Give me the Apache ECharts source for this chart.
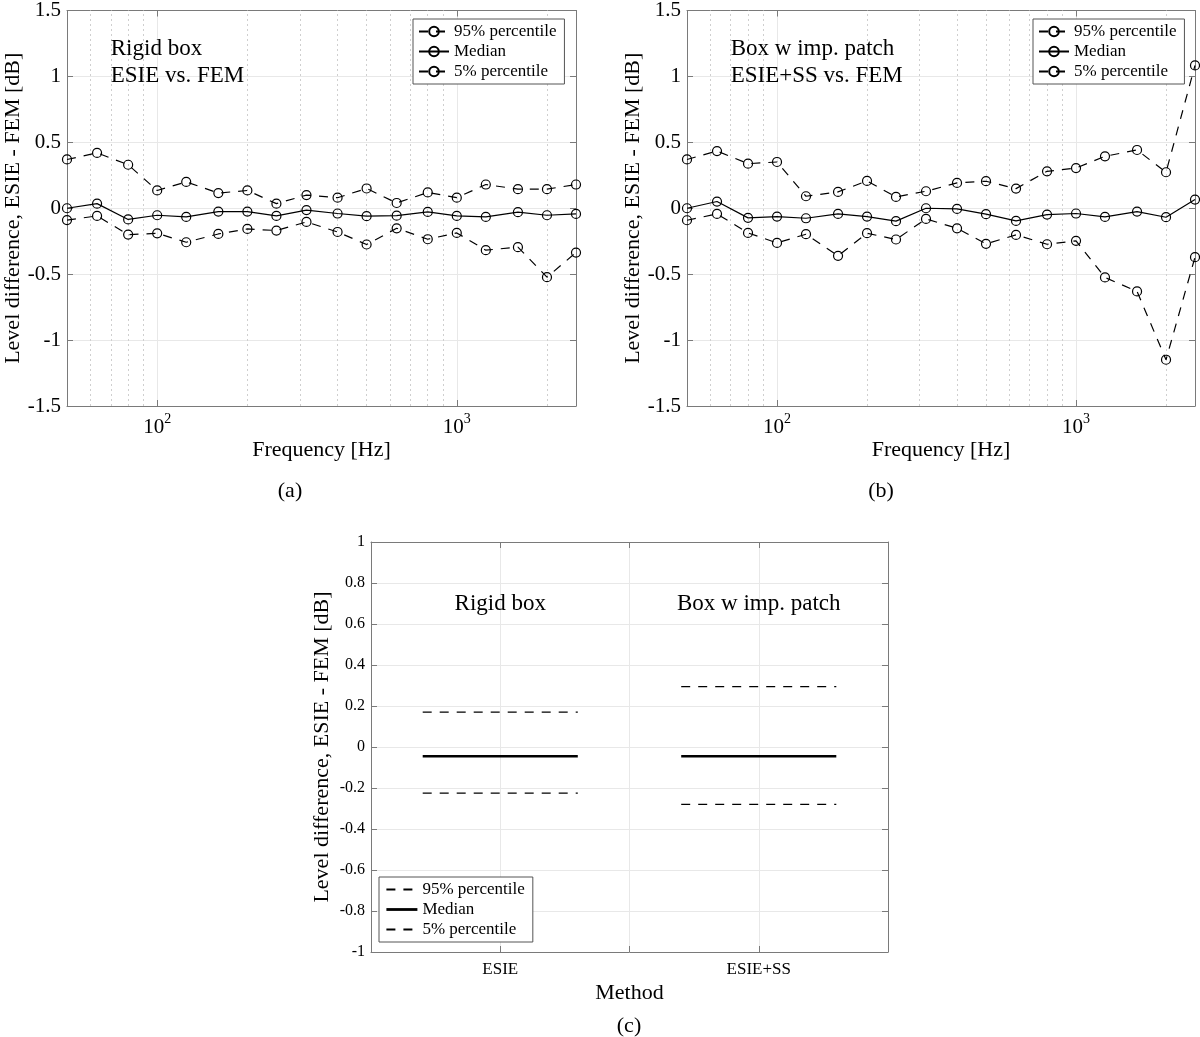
<!DOCTYPE html>
<html><head><meta charset="utf-8">
<script src="https://cdn.jsdelivr.net/npm/echarts/dist/echarts.min.js"></script>
<style>
html,body{margin:0;padding:0;background:#fff;width:1200px;height:1037px;overflow:hidden;}
.c{position:absolute;left:0;top:0;width:1200px;height:1037px;}
</style></head><body>
<div id="ca" class="c"></div><div id="cb" class="c"></div><div id="cc" class="c"></div>
<script>
// ---------------- data ----------------
const freqs = [50,63,80,100,125,160,200,250,315,400,500,630,800,1000,1250,1600,2000,2500];
const minorFreqs = [60,70,80,90,200,300,400,500,600,700,800,900,2000];

const rigidP95 = [0.37,0.42,0.33,0.135,0.20,0.115,0.135,0.035,0.10,0.08,0.15,0.04,0.12,0.08,0.18,0.145,0.145,0.18];
const rigidMed = [0.0,0.035,-0.085,-0.053,-0.066,-0.025,-0.025,-0.058,-0.014,-0.04,-0.06,-0.056,-0.028,-0.058,-0.066,-0.03,-0.053,-0.043];
const rigidP5  = [-0.09,-0.058,-0.20,-0.19,-0.258,-0.195,-0.157,-0.169,-0.104,-0.18,-0.275,-0.152,-0.235,-0.187,-0.318,-0.295,-0.523,-0.336];

const patchP95 = [0.37,0.434,0.338,0.351,0.091,0.124,0.207,0.086,0.129,0.192,0.205,0.149,0.28,0.305,0.394,0.442,0.273,1.083];
const patchMed = [0.0,0.051,-0.073,-0.063,-0.076,-0.043,-0.063,-0.098,0.0,-0.005,-0.045,-0.096,-0.048,-0.04,-0.066,-0.025,-0.068,0.066];
const patchP5  = [-0.091,-0.043,-0.187,-0.263,-0.197,-0.361,-0.189,-0.237,-0.081,-0.152,-0.27,-0.202,-0.273,-0.247,-0.525,-0.631,-1.149,-0.371];

const yTicksLog = {min:-1.5, max:1.5, step:0.5};
const methods = ['ESIE','ESIE+SS'];
const methodP95 = [0.17, 0.295];
const methodMed = [-0.045, -0.045];
const methodP5  = [-0.225, -0.28];
const methodNotes = ['Rigid box','Box w imp. patch'];
const yTicksC = {min:-1, max:1, step:0.2};

const seriesNames = ['95% percentile','Median','5% percentile'];
const yName = 'Level difference, ESIE - FEM [dB]';

// ---------------- styles ----------------
const FONT = 'Liberation Serif';
const AX = '#7a7a7a';
const GRIDC = '#e8e8e8';
const DASH = [9, 8];

function isPow10(v){ const l=Math.log10(v); return Math.abs(l-Math.round(l))<1e-6; }

function logPanel(elId, box, vals, legendPos, notes){
  const chart = echarts.init(document.getElementById(elId), null, {renderer:'canvas'});
  const axisCommon = {
    type:'log', logBase:10, min:50, max:2500,
    axisLine:{show:true,onZero:false,lineStyle:{color:AX,width:1}},
    axisTick:{show:true,inside:true,length:6,lineStyle:{color:AX}}
  };
  const yCommon = {
    type:'value', min:yTicksLog.min, max:yTicksLog.max, interval:yTicksLog.step,
    axisLine:{show:true,onZero:false,lineStyle:{color:AX,width:1}},
    axisTick:{show:true,inside:true,length:6,lineStyle:{color:AX}}
  };
  const mk = (name, data, dashed) => ({
    name, type:'line', z:5,
    data: freqs.map((f,i)=>[f,data[i]]),
    symbol:'circle', symbolSize:9,
    itemStyle:{color:'rgba(0,0,0,0)', borderColor:'#000', borderWidth:1.2},
    lineStyle:{color:'#000', width:1.2, type: dashed?DASH:'solid'},
    emphasis:{disabled:true}
  });
  const option = {
    animation:false,
    textStyle:{fontFamily:FONT,color:'#000'},
    grid:{left:box.l, top:box.t, width:box.w, height:box.h},
    xAxis:[
      Object.assign({}, axisCommon, {
        position:'bottom',
        name:'Frequency [Hz]', nameLocation:'middle', nameGap:32,
        nameTextStyle:{fontSize:22,color:'#000',fontFamily:FONT},
        axisLabel:{show:true, margin:6, color:'#000', fontFamily:FONT,
          formatter: v => isPow10(v) ? '{b|10}{s|'+Math.round(Math.log10(v))+'}' : '',
          rich:{b:{fontSize:21,fontFamily:FONT,color:'#000',verticalAlign:'bottom',lineHeight:26},
                s:{fontSize:14,fontFamily:FONT,color:'#000',verticalAlign:'top',lineHeight:26}}},
        splitLine:{show:true,lineStyle:{color:GRIDC,width:1}}
      }),
      Object.assign({}, axisCommon, {position:'top', axisLabel:{show:false}, splitLine:{show:false}})
    ],
    yAxis:[
      Object.assign({}, yCommon, {
        position:'left', name:yName, nameLocation:'middle', nameRotate:90, nameGap:42,
        nameTextStyle:{fontSize:22,color:'#000',fontFamily:FONT},
        axisLabel:{show:true,fontSize:21,color:'#000',fontFamily:FONT,margin:6},
        splitLine:{show:true,lineStyle:{color:GRIDC,width:1}}
      }),
      Object.assign({}, yCommon, {position:'right', axisLabel:{show:false}, splitLine:{show:false}})
    ],
    legend:{
      z:50, left:legendPos.l, top:legendPos.t, orient:'vertical',
      data:seriesNames, itemWidth:30, itemHeight:12, itemGap:3,
      padding:[4,8,4,5], backgroundColor:'#fff', borderColor:'#555', borderWidth:1,
      textStyle:{fontSize:17,fontFamily:FONT,color:'#000'}, selectedMode:false
    },
    series:[
      {name:'_minor', type:'line', data:[], z:1, silent:true,
       markLine:{silent:true, z:1, symbol:'none', label:{show:false}, animation:false,
         lineStyle:{color:'#cfcfcf', width:1, type:[2,3]},
         data: minorFreqs.map(f=>({xAxis:f}))}},
      mk(seriesNames[0], vals[0], true),
      mk(seriesNames[1], vals[1], false),
      mk(seriesNames[2], vals[2], true)
    ]
  };
  chart.setOption(option);
  const g = notes.map(n => {
    const p = chart.convertToPixel({gridIndex:0}, [n.x, n.y]);
    return {type:'text', x:p[0], y:p[1], z:10,
      style:{text:n.text, font:'23px "'+FONT+'"', fill:'#000', textAlign:'left', textVerticalAlign:'middle'}};
  });
  chart.setOption({graphic:g});
  return chart;
}

logPanel('ca', {l:67,t:10,w:509,h:396}, [rigidP95,rigidMed,rigidP5], {l:413,t:19},
  [{x:70,y:1.21,text:'Rigid box'},{x:70,y:1.0,text:'ESIE vs. FEM'}]);
logPanel('cb', {l:687,t:10,w:508,h:396}, [patchP95,patchMed,patchP5], {l:1033,t:19},
  [{x:70,y:1.21,text:'Box w imp. patch'},{x:70,y:1.0,text:'ESIE+SS vs. FEM'}]);

// ---------------- panel (c) ----------------
(function(){
  const chart = echarts.init(document.getElementById('cc'), null, {renderer:'canvas'});
  const HALF = 0.3;
  const build = arr => {
    const pts = [];
    arr.forEach((v,i)=>{ if(i>0) pts.push([i+0.5,'-']); pts.push([i+1-HALF, v],[i+1+HALF, v]); });
    return pts;
  };
  const mk = (name, arr, dashed, w) => ({
    name, type:'line', z:5, data:build(arr), symbol:'none', showSymbol:false, connectNulls:false,
    itemStyle:{color:'#000'},
    lineStyle:{color:'#000', width:w, type: dashed?DASH:'solid'},
    emphasis:{disabled:true}
  });
  const xCommon = {type:'value', min:0.5, max:2.5, interval:0.5,
    axisLine:{show:true,onZero:false,lineStyle:{color:AX}},
    axisTick:{show:true,inside:true,length:6,lineStyle:{color:AX}}};
  const yCommon = {type:'value', min:yTicksC.min, max:yTicksC.max, interval:yTicksC.step,
    axisLine:{show:true,onZero:false,lineStyle:{color:AX}},
    axisTick:{show:true,inside:true,length:6,lineStyle:{color:AX}}};
  chart.setOption({
    animation:false,
    textStyle:{fontFamily:FONT,color:'#000'},
    grid:{left:371, top:542, width:517, height:410},
    xAxis:[
      Object.assign({}, xCommon, {position:'bottom', name:'Method', nameLocation:'middle', nameGap:30,
        nameTextStyle:{fontSize:22,color:'#000',fontFamily:FONT},
        axisLabel:{show:true,fontSize:17,color:'#000',fontFamily:FONT,margin:9,
          formatter:v=>{const i=Math.round(v); return Math.abs(v-i)<1e-6 && i>=1 && i<=methods.length ? methods[i-1] : '';}},
        splitLine:{show:true,lineStyle:{color:GRIDC}}}),
      Object.assign({}, xCommon, {position:'top', axisLabel:{show:false}, splitLine:{show:false}})
    ],
    yAxis:[
      Object.assign({}, yCommon, {position:'left', name:yName, nameLocation:'middle', nameRotate:90, nameGap:38,
        nameTextStyle:{fontSize:22,color:'#000',fontFamily:FONT},
        axisLabel:{show:true,fontSize:16,color:'#000',fontFamily:FONT,margin:6},
        splitLine:{show:true,lineStyle:{color:GRIDC}}}),
      Object.assign({}, yCommon, {position:'right', axisLabel:{show:false}, splitLine:{show:false}})
    ],
    legend:{
      z:50, left:379, top:877, orient:'vertical',
      data:[{name:seriesNames[0]},{name:seriesNames[1], lineStyle:{width:2.8}},{name:seriesNames[2]}],
      itemWidth:31, itemHeight:12, itemGap:3,
      padding:[4,8,4,6], backgroundColor:'#fff', borderColor:'#555', borderWidth:1,
      itemStyle:{color:'rgba(0,0,0,0)', borderWidth:0, opacity:0},
      textStyle:{fontSize:17,fontFamily:FONT,color:'#000'}, selectedMode:false
    },
    series:[
      mk(seriesNames[0], methodP95, true, 1.2),
      mk(seriesNames[1], methodMed, false, 2.6),
      mk(seriesNames[2], methodP5, true, 1.2)
    ]
  });
  const g = methodNotes.map((t,i)=>{
    const p = chart.convertToPixel({gridIndex:0}, [i+1, 0.7]);
    return {type:'text', x:p[0], y:p[1], z:10,
      style:{text:t, font:'23px "'+FONT+'"', fill:'#000', textAlign:'center', textVerticalAlign:'middle'}};
  });
  const caps = [['(a)',290,491],['(b)',881,491],['(c)',629,1026]].map(c=>({
    type:'text', x:c[1], y:c[2], z:10,
    style:{text:c[0], font:'22px "'+FONT+'"', fill:'#000', textAlign:'center', textVerticalAlign:'middle'}}));
  chart.setOption({graphic:g.concat(caps)});
})();
</script>
</body></html>
